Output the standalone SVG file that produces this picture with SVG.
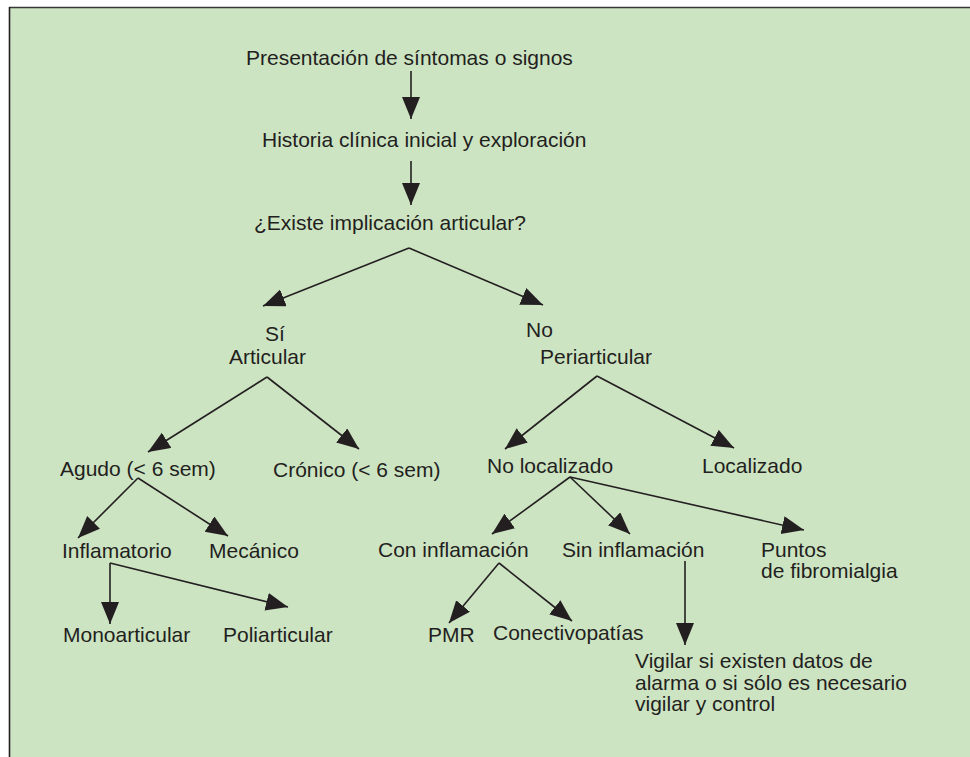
<svg xmlns="http://www.w3.org/2000/svg" width="970" height="757" viewBox="0 0 970 757">
<style>
text{font-family:"Liberation Sans",Arial,Helvetica,sans-serif;font-size:21px;fill:#231f20}
.c line{stroke:#231f20;stroke-width:1.6;marker-end:url(#ah)}
</style>
<defs>
<marker id="ah" markerUnits="userSpaceOnUse" markerWidth="24" markerHeight="20" refX="22" refY="9" orient="auto" viewBox="0 0 24 20">
<path d="M0,0 L22,9 L0,18 z" fill="#231f20"/>
</marker>
</defs>
<rect x="0" y="0" width="970" height="757" fill="#ffffff"/>
<rect x="9" y="7.5" width="961" height="750" fill="#cde4c3"/>
<line x1="9" y1="7.5" x2="970" y2="7.5" stroke="#3a3536" stroke-width="1.6"/>
<line x1="9.5" y1="7" x2="9.5" y2="757" stroke="#231f20" stroke-width="1.6"/>
<g class="c" id="connectors">
<line x1="411" y1="71" x2="411" y2="119"/>
<line x1="411" y1="161" x2="411" y2="205"/>
<line x1="409" y1="248" x2="263" y2="306"/>
<line x1="409" y1="248" x2="543" y2="305"/>
<line x1="267" y1="377" x2="148" y2="452"/>
<line x1="267" y1="377" x2="359" y2="449"/>
<line x1="597" y1="376" x2="505" y2="449"/>
<line x1="597" y1="376" x2="734" y2="448"/>
<line x1="138" y1="478" x2="78" y2="538"/>
<line x1="138" y1="478" x2="228" y2="536"/>
<line x1="110" y1="563" x2="110" y2="624"/>
<line x1="110" y1="563" x2="288" y2="607"/>
<line x1="570" y1="477" x2="492" y2="534"/>
<line x1="570" y1="477" x2="630" y2="534"/>
<line x1="570" y1="477" x2="804" y2="530"/>
<line x1="499" y1="563" x2="449" y2="623"/>
<line x1="499" y1="563" x2="572" y2="621"/>
<line x1="685" y1="561" x2="685" y2="645"/>
</g>
<g id="n-presentacion"><text x="246" y="65">Presentación de síntomas o signos</text></g>
<g id="n-historia"><text x="262" y="147">Historia clínica inicial y exploración</text></g>
<g id="n-existe"><text x="254" y="230">¿Existe implicación articular?</text></g>
<g id="n-si"><text x="265" y="341">Sí</text><text x="229" y="364">Articular</text></g>
<g id="n-no"><text x="526" y="337">No</text><text x="540" y="364">Periarticular</text></g>
<g id="n-agudo"><text x="60" y="476">Agudo (&lt; 6 sem)</text></g>
<g id="n-cronico"><text x="273" y="477">Crónico (&lt; 6 sem)</text></g>
<g id="n-nolocalizado"><text x="487" y="473">No localizado</text></g>
<g id="n-localizado"><text x="702" y="473">Localizado</text></g>
<g id="n-inflamatorio"><text x="62" y="558">Inflamatorio</text></g>
<g id="n-mecanico"><text x="209" y="558">Mecánico</text></g>
<g id="n-coninfl"><text x="378" y="557">Con inflamación</text></g>
<g id="n-sininfl"><text x="562" y="557">Sin inflamación</text></g>
<g id="n-puntos"><text x="761" y="557">Puntos</text><text x="761" y="578">de fibromialgia</text></g>
<g id="n-mono"><text x="63" y="642">Monoarticular</text></g>
<g id="n-poli"><text x="223" y="642">Poliarticular</text></g>
<g id="n-pmr"><text x="428" y="642">PMR</text></g>
<g id="n-conectivo"><text x="493" y="640">Conectivopatías</text></g>
<g id="n-vigilar"><text x="635" y="668">Vigilar si existen datos de</text><text x="635" y="690">alarma o si sólo es necesario</text><text x="635" y="711">vigilar y control</text></g>
</svg>
